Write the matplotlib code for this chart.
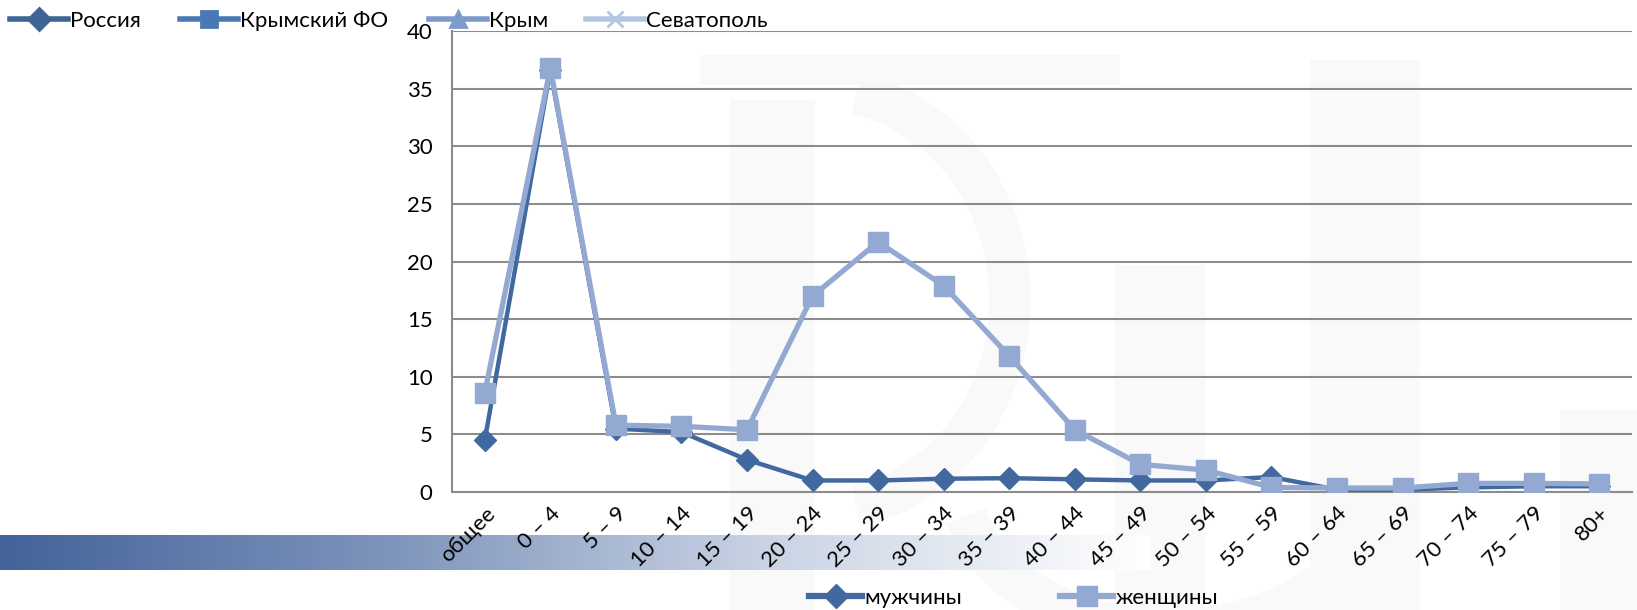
import numpy as np
import matplotlib
matplotlib.use("Agg")
import matplotlib.pyplot as plt
from matplotlib.colors import LinearSegmentedColormap
from matplotlib.lines import Line2D
from matplotlib.patches import Rectangle, Arc

plt.rcParams['font.family'] = ['Lato', 'DejaVu Sans']

# данные
age_groups = ['общее', '0 – 4', '5 – 9', '10 – 14', '15 – 19', '20 – 24', '25 – 29',
              '30 – 34', '35 – 39', '40 – 44', '45 – 49', '50 – 54', '55 – 59',
              '60 – 64', '65 – 69', '70 – 74', '75 – 79', '80+']
men = [4.5, 36.6, 5.5, 5.2, 2.8, 1.0, 1.0, 1.15, 1.2, 1.1, 1.0, 1.0, 1.3,
       0.2, 0.2, 0.4, 0.5, 0.5]
women = [8.6, 36.8, 5.8, 5.7, 5.4, 17.0, 21.7, 17.9, 11.8, 5.4, 2.4, 1.9, 0.4,
         0.35, 0.35, 0.75, 0.75, 0.7]
top_legend = ['Россия', 'Крымский ФО', 'Крым', 'Севатополь']
y_ticks = [0, 5, 10, 15, 20, 25, 30, 35, 40]

men_color = '#41699f'
women_color = '#93a9d2'
top_colors = ['#3f6596', '#4a78b4', '#7c9bcc', '#b4c5e2']
top_markers = ['D', 's', '^', 'x']
FS = 16

W, H = 1637, 610
fig = plt.figure(figsize=(W / 100, H / 100), dpi=100)

# очень бледный фоновый водяной знак
bg = fig.add_axes([0, 0, 1, 1])
bg.set_zorder(-1)
bg.set_xlim(0, W)
bg.set_ylim(H, 0)
bg.axis('off')
wm = '#f9f9f9'
for x0, y0, w, h in [(730, 100, 85, 510), (1115, 265, 90, 345), (1310, 60, 110, 550),
                     (1560, 410, 80, 200), (700, 55, 420, 30)]:
    bg.add_patch(Rectangle((x0, y0), w, h, color=wm, lw=0))
bg.add_patch(Arc((820, 300), 380, 420, theta1=-80, theta2=80, color=wm, lw=30))
bg.add_patch(Arc((1170, 480), 420, 300, theta1=10, theta2=170, color=wm, lw=30))

# градиентная полоса внизу
gax = fig.add_axes([0, 1 - 570 / H, 1150 / W, 35 / H])
gax.set_zorder(0)
cmap = LinearSegmentedColormap.from_list('bar', ['#44639a', '#7d93bb', '#c9d3e4', '#ffffff'])
grad = np.linspace(0, 1, 512).reshape(1, -1)
gax.imshow(grad, aspect='auto', cmap=cmap, extent=[0, 1, 0, 1])
gax.axis('off')

ax = fig.add_axes([452 / W, 1 - 492 / H, (1632 - 452) / W, (492 - 31) / H])
ax.set_zorder(2)
ax.patch.set_alpha(0)

x = np.arange(len(age_groups))
ax.plot(x, men, color=men_color, lw=3.2, marker='D', ms=11, zorder=3)
ax.plot(x, women, color=women_color, lw=3.8, marker='s', ms=14, zorder=4)

ax.set_xlim(-0.5, len(age_groups) - 0.5)
ax.set_ylim(0, 40)
ax.set_yticks(y_ticks)
ax.set_yticklabels([str(v) for v in y_ticks], fontsize=FS)
ax.set_xticks(x)
ax.set_xticklabels(age_groups, rotation=45, ha='right', rotation_mode='anchor', fontsize=FS)
ax.tick_params(axis='y', length=0, pad=14)
ax.tick_params(axis='x', length=0, pad=8)
ax.grid(axis='y', color='#8c8c8c', lw=1.5)
ax.set_axisbelow(True)
for s in ['top', 'right']:
    ax.spines[s].set_visible(False)
for s in ['left', 'bottom']:
    ax.spines[s].set_color('#8c8c8c')
    ax.spines[s].set_linewidth(1.5)

# верхняя легенда (отдельные записи)
top_x = [10, 180, 429, 586]
for name, c, m, xx in zip(top_legend, top_colors, top_markers, top_x):
    h = Line2D([], [], color=c, lw=4, marker=m, ms=11, mew=2)
    fig.legend(handles=[h], labels=[name], loc='center left',
               bbox_to_anchor=(xx / W, 1 - 21 / H), frameon=False, borderaxespad=0,
               fontsize=FS, handlelength=2.6, handletextpad=0.1, borderpad=0)

# нижняя легенда
bottom = [('мужчины', men_color, 'D', 12, 809), ('женщины', women_color, 's', 14, 1060)]
for name, c, m, ms, xx in bottom:
    h = Line2D([], [], color=c, lw=4.5, marker=m, ms=ms)
    fig.legend(handles=[h], labels=[name], loc='center left',
               bbox_to_anchor=(xx / W, 1 - 598 / H), frameon=False, borderaxespad=0,
               fontsize=FS, handlelength=2.4, handletextpad=0.1, borderpad=0)

fig.savefig('out.png', dpi=100)
